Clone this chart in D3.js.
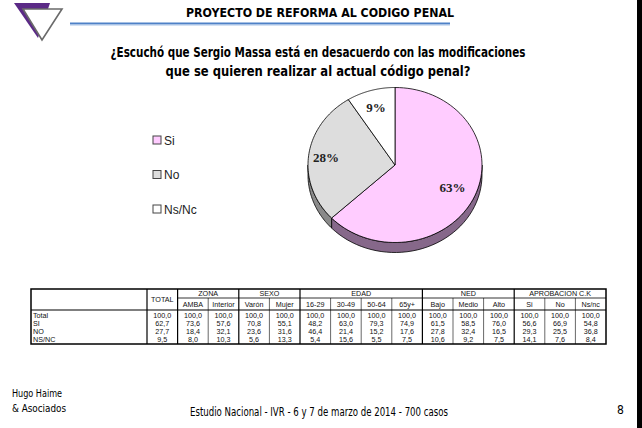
<!DOCTYPE html>
<html>
<head>
<meta charset="utf-8">
<script src="https://cdn.jsdelivr.net/npm/d3@7"></script>
<style>
  body { margin: 0; background: #fff; }
  svg { display: block; }
  .narrow { font-family: "Liberation Sans Narrow", "Arial Narrow", "DejaVu Sans Condensed", sans-serif; }
  .cell { font-family: "Liberation Sans", Arial, sans-serif; font-size: 7.2px; fill: #111; }
</style>
</head>
<body>
<svg id="chart" width="642" height="428"></svg>
<script>
// pie data
var pieLabels = ["Si", "No", "Ns/Nc"],
    pieValues = [63, 28, 9],
    pieColors = ["#ffccff", "#dddddd", "#ffffff"],
    sideColors = ["#86688a", "#8a8a8a", "#9a9a9a"];

// table data
var groups = [
    { name: "", cols: ["TOTAL"] },
    { name: "ZONA", cols: ["AMBA", "Interior"] },
    { name: "SEXO", cols: ["Varón", "Mujer"] },
    { name: "EDAD", cols: ["16-29", "30-49", "50-64", "65y+"] },
    { name: "NED", cols: ["Bajo", "Medio", "Alto"] },
    { name: "APROBACION C.K", cols: ["Si", "No", "Ns/nc"] }
];
var rowLabels = ["Total", "SI", "NO", "NS/NC"];
var rowTotal = [100.0, 100.0, 100.0, 100.0, 100.0, 100.0, 100.0, 100.0, 100.0, 100.0, 100.0, 100.0, 100.0, 100.0, 100.0],
    rowSi =    [62.7, 73.6, 57.6, 70.8, 55.1, 48.2, 63.0, 79.3, 74.9, 61.5, 58.5, 76.0, 56.6, 66.9, 54.8],
    rowNo =    [27.7, 18.4, 32.1, 23.6, 31.6, 46.4, 21.4, 15.2, 17.6, 27.8, 32.4, 16.5, 29.3, 25.5, 36.8],
    rowNsNc =  [9.5, 8.0, 10.3, 5.6, 13.3, 5.4, 15.6, 5.5, 7.5, 10.6, 9.2, 7.5, 14.1, 7.6, 8.4];
var tableRows = [rowTotal, rowSi, rowNo, rowNsNc];

var svg = d3.select("#chart");

svg.append("rect").attr("width", 642).attr("height", 428).attr("fill", "#fff");
// black strip at the right edge
svg.append("rect").attr("x", 637).attr("y", 0).attr("width", 5).attr("height", 428).attr("fill", "#000");

/**
 * Logo
 */
var logo = svg.append("g");
logo.append("path")
    .attr("d", "M14,3 L50,3 L38,38 Z")
    .attr("fill", "#5b2a86");
logo.append("path")
    .attr("d", "M23,9 L62,9 L42,40 Z")
    .attr("fill", "#fff")
    .attr("stroke", "#6a6a6a")
    .attr("stroke-width", 1.6);

/**
 * Header
 */
svg.append("text")
    .attr("class", "narrow")
    .attr("x", 320).attr("y", 17)
    .attr("text-anchor", "middle")
    .attr("font-size", 13).attr("font-weight", "bold")
    .attr("textLength", 268).attr("lengthAdjust", "spacingAndGlyphs")
    .text("PROYECTO DE REFORMA AL CODIGO PENAL");

svg.append("rect").attr("x", 70).attr("y", 22.5).attr("width", 380).attr("height", 2).attr("fill", "#4f81c7");
svg.append("rect").attr("x", 70).attr("y", 24.5).attr("width", 380).attr("height", 1).attr("fill", "#a9c3e8");

var question = ["¿Escuchó que Sergio Massa está en desacuerdo con las modificaciones",
    "que se quieren realizar al actual código penal?"];
var questionWidths = [415, 305];

svg.selectAll(".question")
    .data(question)
    .enter()
    .append("text")
    .attr("class", "question narrow")
    .attr("x", 318)
    .attr("y", function(d, i) { return 57 + i * 19; })
    .attr("text-anchor", "middle")
    .attr("font-size", 13.5).attr("font-weight", "bold")
    .attr("textLength", function(d, i) { return questionWidths[i]; })
    .attr("lengthAdjust", "spacingAndGlyphs")
    .text(function(d) { return d; });

/**
 * Pie (tilted, with a little depth)
 */
var cx = 395, cy = 165, rx = 87, ry = 77.5, depth = 10;

var pie = d3.pie().sort(null).value(function(d) { return d; });
var arcs = pie(pieValues);

function pt(a, r, dy) {
    return [cx + Math.sin(a) * rx * r, cy - Math.cos(a) * ry * r + (dy || 0)];
}

function sidePath(a0, a1) {
    var s = Math.max(a0, Math.PI / 2), e = Math.min(a1, Math.PI * 1.5);
    if (s >= e) return null;
    var n = 40, top = [], bottom = [];
    for (var k = 0; k <= n; k++) {
        var a = s + (e - s) * k / n;
        top.push(pt(a, 1, 0));
        bottom.push(pt(a, 1, depth));
    }
    return d3.line()(top.concat(bottom.reverse())) + "Z";
}

function topPath(a0, a1) {
    var n = 80, pts = [[cx, cy]];
    for (var k = 0; k <= n; k++) {
        pts.push(pt(a0 + (a1 - a0) * k / n, 1, 0));
    }
    return d3.line()(pts) + "Z";
}

var pieG = svg.append("g");

pieG.selectAll(".side")
    .data(arcs)
    .enter()
    .append("path")
    .attr("class", "side")
    .attr("d", function(d) { return sidePath(d.startAngle, d.endAngle); })
    .attr("fill", function(d, i) { return sideColors[i]; })
    .attr("stroke", "#000")
    .attr("stroke-width", 0.8);

pieG.selectAll(".slice")
    .data(arcs)
    .enter()
    .append("path")
    .attr("class", "slice")
    .attr("d", function(d) { return topPath(d.startAngle, d.endAngle); })
    .attr("fill", function(d, i) { return pieColors[i]; })
    .attr("stroke", "#000")
    .attr("stroke-width", 0.8)
    .attr("stroke-linejoin", "round");

var labelR = [0.72, 0.8, 0.78];
pieG.selectAll(".plabel")
    .data(arcs)
    .enter()
    .append("text")
    .attr("class", "plabel")
    .attr("x", function(d, i) { return pt((d.startAngle + d.endAngle) / 2, labelR[i])[0]; })
    .attr("y", function(d, i) { return pt((d.startAngle + d.endAngle) / 2, labelR[i])[1]; })
    .attr("dy", "0.35em")
    .attr("text-anchor", "middle")
    .attr("font-family", "'Liberation Serif', 'Times New Roman', serif")
    .attr("font-size", 13).attr("font-weight", "bold")
    .attr("fill", "#222")
    .text(function(d) { return d.data + "%"; });

/**
 * Legend
 */
var legendY = d3.scalePoint().domain(pieLabels).range([140, 209]);
var legend = svg.selectAll(".legend")
    .data(pieLabels)
    .enter()
    .append("g")
    .attr("class", "legend")
    .attr("transform", function(d) { return "translate(153," + legendY(d) + ")"; });

legend.append("rect")
    .attr("x", 0).attr("y", -4)
    .attr("width", 8).attr("height", 8)
    .attr("fill", function(d, i) { return pieColors[i]; })
    .attr("stroke", "#444")
    .attr("stroke-width", 1);

legend.append("text")
    .attr("x", 11).attr("y", 4.5)
    .attr("font-family", "'Liberation Sans', Arial, sans-serif")
    .attr("font-size", 12)
    .attr("fill", "#222")
    .text(function(d) { return d; });

/**
 * Table
 */
var allCols = [];
groups.forEach(function(g) { g.cols.forEach(function(c) { allCols.push(c); }); });

var tLeft = 31, tRight = 606, tTop = 289, hMid = 298, hBottom = 310, tBottom = 344;
var colX = d3.scaleBand().domain(d3.range(allCols.length)).range([147, tRight]);
var rowY = d3.scaleBand().domain(rowLabels).range([hBottom + 1, tBottom]);
var fmt = function(v) { return d3.format(".1f")(v).replace(".", ","); };

var table = svg.append("g");

function line(x1, y1, x2, y2, w) {
    table.append("line")
        .attr("x1", x1).attr("y1", y1).attr("x2", x2).attr("y2", y2)
        .attr("stroke", "#000").attr("stroke-width", w);
}

// group spans
var idx = 0;
groups.forEach(function(g) {
    var x0 = colX(idx), x1 = colX(idx + g.cols.length - 1) + colX.bandwidth();
    if (g.name) {
        table.append("text").attr("class", "cell")
            .attr("x", (x0 + x1) / 2).attr("y", tTop + 6.5)
            .attr("text-anchor", "middle")
            .text(g.name);
        line(x0, hMid, x1, hMid, 0.8);
        g.cols.forEach(function(c, ci) {
            var xx = colX(idx + ci);
            if (ci > 0) line(xx, hMid, xx, tBottom, 0.6);
            table.append("text").attr("class", "cell")
                .attr("x", xx + colX.bandwidth() / 2).attr("y", hMid + 8.5)
                .attr("text-anchor", "middle")
                .text(c);
        });
    } else {
        table.append("text").attr("class", "cell")
            .attr("x", (x0 + x1) / 2).attr("y", (tTop + hBottom) / 2 + 2.5)
            .attr("text-anchor", "middle")
            .text(g.cols[0]);
    }
    line(x0, tTop, x0, tBottom, 1.2);
    idx += g.cols.length;
});

line(tLeft, hBottom, tRight, hBottom, 1.2);

// rows
rowLabels.forEach(function(r, ri) {
    var y = rowY(r) + rowY.bandwidth() / 2 + 2.5;
    table.append("text").attr("class", "cell")
        .attr("x", tLeft + 2).attr("y", y)
        .text(r);
    tableRows[ri].forEach(function(v, ci) {
        table.append("text").attr("class", "cell")
            .attr("x", colX(ci) + colX.bandwidth() / 2).attr("y", y)
            .attr("text-anchor", "middle")
            .text(fmt(v));
    });
});

table.append("rect")
    .attr("x", tLeft).attr("y", tTop)
    .attr("width", tRight - tLeft).attr("height", tBottom - tTop)
    .attr("fill", "none").attr("stroke", "#000").attr("stroke-width", 1.5);

/**
 * Footer
 */
svg.append("text").attr("class", "narrow")
    .attr("x", 12).attr("y", 397).attr("font-size", 10.5)
    .attr("textLength", 50).attr("lengthAdjust", "spacingAndGlyphs")
    .text("Hugo Haime");
svg.append("text").attr("class", "narrow")
    .attr("x", 12).attr("y", 412).attr("font-size", 10.5)
    .attr("textLength", 54).attr("lengthAdjust", "spacingAndGlyphs")
    .text("& Asociados");
svg.append("text").attr("class", "narrow")
    .attr("x", 319).attr("y", 416).attr("font-size", 11.5)
    .attr("text-anchor", "middle")
    .attr("textLength", 258).attr("lengthAdjust", "spacingAndGlyphs")
    .text("Estudio Nacional - IVR - 6 y 7 de marzo de 2014 - 700 casos");
svg.append("text").attr("class", "narrow")
    .attr("x", 617).attr("y", 414).attr("font-size", 12)
    .text("8");
</script>
</body>
</html>
